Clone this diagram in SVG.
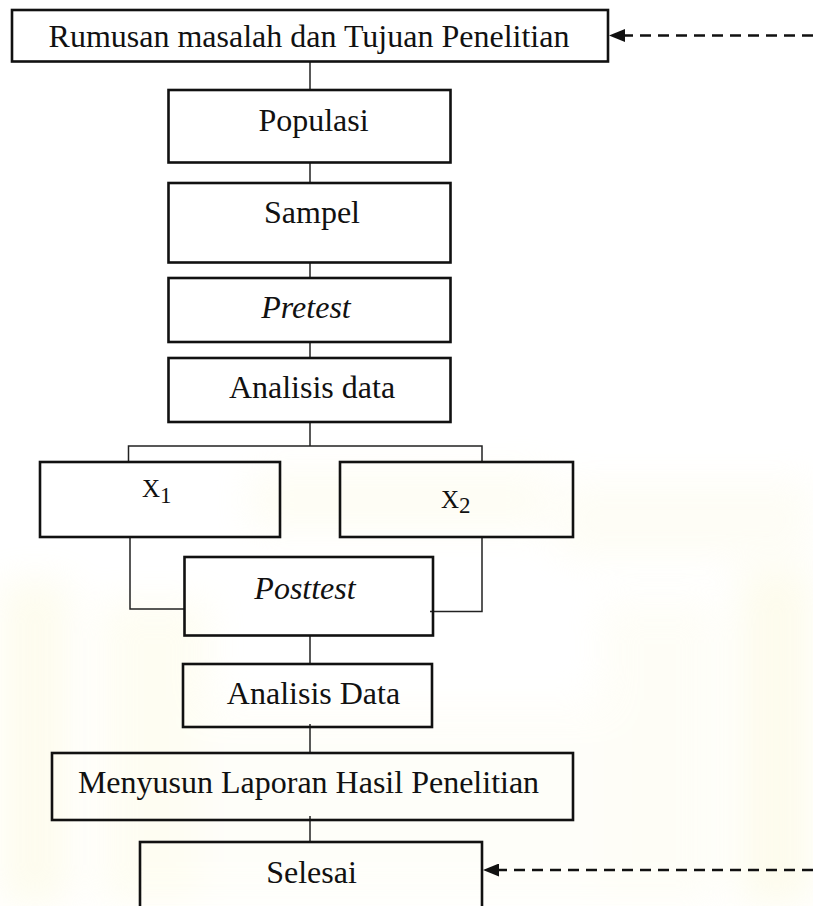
<svg xmlns="http://www.w3.org/2000/svg" width="813" height="906" viewBox="0 0 813 906">
<style>
.box{fill:none;stroke:#111;stroke-width:2.6}
.lbl{font-family:"Liberation Serif","Times New Roman",serif;font-size:32px;fill:#111;text-anchor:middle}
.it{font-style:italic}
.xl{font-family:"Liberation Serif","Times New Roman",serif;font-size:25px;fill:#111}
.ln{fill:none;stroke:#222;stroke-width:1.5}
.dash{fill:none;stroke:#111;stroke-width:2.6;stroke-dasharray:11 7}
</style>
<defs>
<marker id="ah" viewBox="0 0 16 13" markerWidth="16" markerHeight="13" markerUnits="userSpaceOnUse" refX="0" refY="6.5" orient="auto">
<path d="M0,0 L16,6.5 L0,13 z" fill="#111"/>
</marker>
<filter id="blur" x="-50%" y="-50%" width="200%" height="200%"><feGaussianBlur stdDeviation="18"/></filter>
</defs>
<rect width="813" height="906" fill="#ffffff"/>
<g id="watermark" filter="url(#blur)" opacity="0.35">
<rect x="0" y="580" width="70" height="326" fill="#fbf7d0"/>
<rect x="100" y="600" width="110" height="306" fill="#fdfadc"/>
<rect x="560" y="480" width="253" height="80" fill="#fcf9e4"/>
<rect x="740" y="570" width="73" height="336" fill="#faf6cc"/>
<rect x="600" y="600" width="120" height="306" fill="#fdfbe8"/>
<rect x="250" y="470" width="300" height="60" fill="#fcf9e0"/>
<rect x="200" y="700" width="400" height="206" fill="#fefdf0"/>
</g>
<g id="connectors">
<line class="ln" x1="310" y1="62" x2="310" y2="91"/>
<line class="ln" x1="310" y1="163" x2="310" y2="184"/>
<line class="ln" x1="310" y1="262" x2="310" y2="278"/>
<line class="ln" x1="310" y1="342" x2="310" y2="358"/>
<line class="ln" x1="310" y1="422" x2="310" y2="446"/>
<polyline class="ln" points="128.5,462 128.5,446 482,446 482,462"/>
<polyline class="ln" points="130,537 130,609 184.5,609"/>
<polyline class="ln" points="482,537 482,611.5 430,611.5"/>
<line class="ln" x1="310" y1="636" x2="310" y2="664"/>
<line class="ln" x1="310" y1="724" x2="310" y2="753"/>
<line class="ln" x1="310" y1="816" x2="310" y2="842"/>
<line class="dash" x1="813" y1="35.5" x2="625" y2="35.5" marker-end="url(#ah)"/>
<line class="dash" x1="813" y1="870" x2="499" y2="870" marker-end="url(#ah)"/>
</g>
<g id="n1"><rect class="box" x="12" y="10" width="596" height="51.5"/><text class="lbl" x="309" y="47">Rumusan masalah dan Tujuan Penelitian</text></g>
<g id="n2"><rect class="box" x="168.5" y="90" width="282" height="72.5"/><text class="lbl" x="313.5" y="131">Populasi</text></g>
<g id="n3"><rect class="box" x="168.5" y="183" width="282" height="79.5"/><text class="lbl" x="312" y="223">Sampel</text></g>
<g id="n4"><rect class="box" x="168.5" y="278" width="282" height="64"/><text class="lbl it" x="306" y="318">Pretest</text></g>
<g id="n5"><rect class="box" x="168.5" y="358" width="282" height="64"/><text class="lbl" x="312" y="398">Analisis data</text></g>
<g id="n6"><rect class="box" x="40" y="462" width="240" height="75"/><text class="xl" x="142" y="497">X<tspan font-size="23" dy="6">1</tspan></text></g>
<g id="n7"><rect class="box" x="340" y="462" width="233" height="75"/><text class="xl" x="441" y="508">X<tspan font-size="23" dy="5">2</tspan></text></g>
<g id="n8"><rect class="box" x="184.5" y="557" width="248.5" height="78.5"/><text class="lbl it" x="305" y="599">Posttest</text></g>
<g id="n9"><rect class="box" x="183" y="664" width="249" height="63"/><text class="lbl" x="313.5" y="704">Analisis Data</text></g>
<g id="n10"><rect class="box" x="52" y="753" width="521" height="67"/><text class="lbl" x="308.5" y="793">Menyusun Laporan Hasil Penelitian</text></g>
<g id="n11"><rect class="box" x="140" y="842" width="342" height="80"/><text class="lbl" x="311.5" y="883">Selesai</text></g>
</svg>
